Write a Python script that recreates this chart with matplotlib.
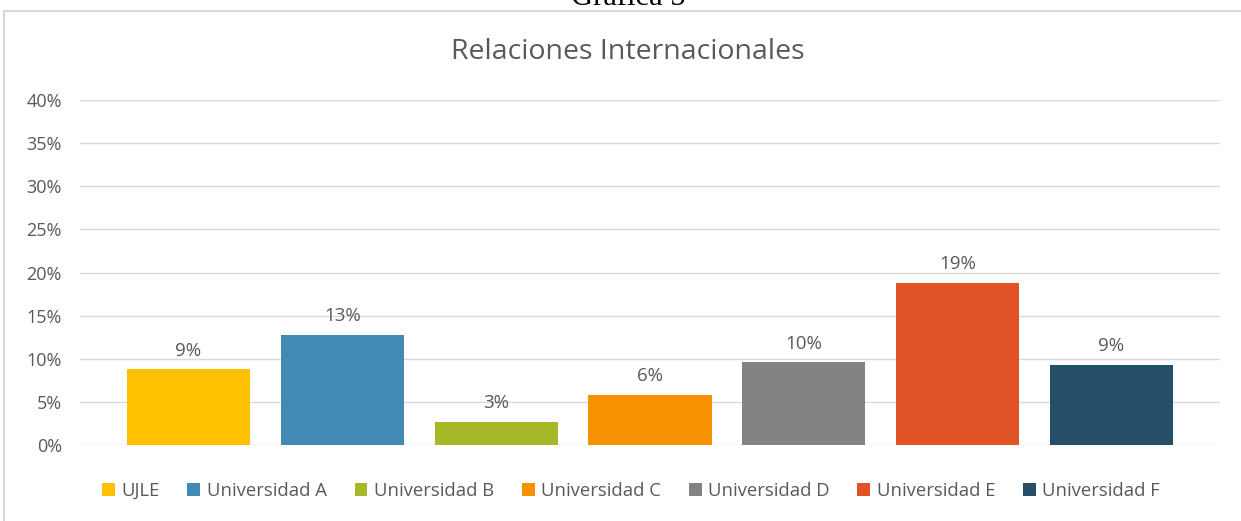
import matplotlib.pyplot as plt
from matplotlib.patches import Rectangle
from matplotlib.ticker import FuncFormatter

# datos
universidades = ["UJLE", "Universidad A", "Universidad B", "Universidad C",
                 "Universidad D", "Universidad E", "Universidad F"]
valores = [8.8, 12.8, 2.7, 5.8, 9.6, 18.8, 9.3]
etiquetas = ["9%", "13%", "3%", "6%", "10%", "19%", "9%"]
colores = ["#FFC000", "#418AB3", "#A6B727", "#F69200", "#838383", "#DF5327", "#254E68"]
ticks_y = [0, 5, 10, 15, 20, 25, 30, 35, 40]

gris = "#595959"
plt.rcParams['font.family'] = ['Open Sans', 'DejaVu Sans']

fig = plt.figure(figsize=(12.41, 5.21), dpi=100)
fig.patch.set_facecolor('white')

# marco del grafico
fig.patches.append(Rectangle((4 / 1241, -0.05), 1.1, 1 - 11 / 521 + 0.05,
                             transform=fig.transFigure, fill=False,
                             edgecolor='#D9D9D9', linewidth=1.5))

# titulo del documento (cortado arriba, como en el original)
fig.text(628 / 1241, 1 - 5 / 521, "Gráfica 5", ha='center', va='baseline',
         fontsize=22, family='Liberation Serif', color='black')

ax = fig.add_axes([80 / 1241, 1 - 445 / 521, 1140 / 1241, 345 / 521])
x = list(range(len(universidades)))
bars = ax.bar(x, valores, width=0.8, color=colores, label=universidades, zorder=3)

for b, txt in zip(bars, etiquetas):
    ax.text(b.get_x() + b.get_width() / 2, b.get_height() + 1.1, txt,
            ha='center', va='bottom', fontsize=13.5, color=gris)

ax.set_ylim(0, 40)
ax.set_xlim(-0.705, 6.705)
ax.set_yticks(ticks_y)
ax.yaxis.set_major_formatter(FuncFormatter(lambda v, p: f"{v:.0f}%"))
ax.set_xticks([])
ax.tick_params(axis='y', length=0, labelsize=13, labelcolor=gris, pad=13)
ax.grid(axis='y', color='#D9D9D9', linewidth=1, zorder=0)
for s in ax.spines.values():
    s.set_visible(False)

fig.text(628 / 1241, 1 - 52 / 521, "Relaciones Internacionales", ha='center',
         va='center', fontsize=20.5, color=gris)

fig.legend(handles=bars, labels=universidades, loc='center',
           bbox_to_anchor=(631 / 1241, 1 - 491 / 521), ncol=7, frameon=False,
           fontsize=13.3, labelcolor=gris, handlelength=0.7, handleheight=0.7,
           handletextpad=0.35, columnspacing=1.5)

fig.savefig("out.png", dpi=100)
